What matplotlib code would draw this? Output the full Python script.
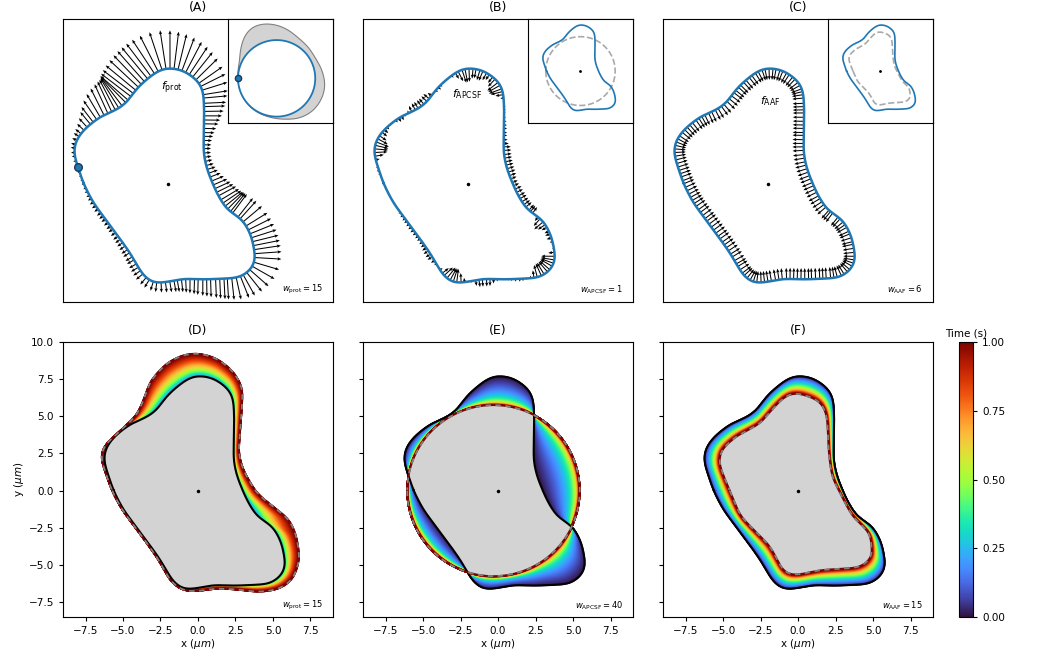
import numpy as np
import matplotlib.pyplot as plt
from matplotlib.colors import Normalize
from matplotlib.cm import ScalarMappable

cell_x = [0.0, 1.0, 2.0, 2.36, 2.42, 2.36, 2.6, 3.24, 3.9, 5.0, 5.58, 5.87, 5.58, 4.8, 2.36, 1.0,
          -0.1, -0.98, -1.64, -2.53, -3.64, -4.98, -5.64, -6.31, -6.2, -5.64, -4.53, -3.42, -2.76,
          -2.09, -1.2, -0.53]
cell_y = [7.76, 7.6, 6.9, 6.27, 4.7, 2.0, 0.93, -0.62, -1.73, -2.4, -3.5, -5.07, -5.73, -6.29, -6.4,
          -6.33, -6.58, -6.67, -6.18, -4.62, -3.07, -1.29, 0.0, 2.04, 2.82, 3.6, 4.49, 4.93, 5.38,
          6.38, 7.16, 7.64]

# outline at t = 1 after protrusion (panel D)
prot_x = [0.0, 1.24, 2.36, 3.0, 2.9, 2.69, 3.0, 3.9, 5.0, 6.13, 6.58, 6.8, 6.36, 5.47, 4.13, 2.36,
          1.02, -0.09, -1.09, -1.87, -2.65, -3.75, -5.08, -5.75, -6.53, -6.3, -5.53, -4.09, -3.64,
          -3.2, -2.09, -0.98]
prot_y = [9.27, 8.93, 8.04, 6.93, 5.16, 2.49, 1.38, -0.18, -1.07, -1.96, -3.07, -4.62, -5.96, -6.62,
          -6.84, -6.62, -6.58, -6.8, -6.73, -6.07, -4.6, -3.05, -1.27, 0.0, 2.27, 3.0, 3.71, 5.04,
          6.04, 7.38, 8.6, 9.16]

# outline at t = 1 after area adjustment (panel F)
aaf_x = [0.0, 1.49, 1.93, 2.05, 2.25, 3.6, 4.82, 4.98, 4.16, 1.49, -0.29, -0.96, -1.84, -3.84,
         -5.29, -5.18, -4.07, -2.51, -1.62, -0.73]
aaf_y = [6.6, 6.04, 5.16, 2.49, 0.93, -1.73, -2.84, -4.51, -5.18, -5.33, -5.73, -5.51, -3.73, -1.73,
         1.82, 2.71, 3.71, 4.49, 5.6, 6.49]

# target circle of the APCSF (panel E)
circle_r = 5.75
circle_cx = -0.3

# protrusion arrow length (um) against polar angle (deg), panel A
prot_ang = [-165, -140, -120, -105, -90, -70, -55, -45, -38, -30, -20, -5, 10, 25, 40, 55, 63, 70,
            80, 90, 100, 110, 120, 130, 137, 145, 155, 175]
prot_len = [0.3, 0.35, 0.5, 0.6, 0.7, 1.1, 1.5, 1.7, 1.9, 1.7, 1.5, 1.1, 0.7, 0.5, 0.45, 0.55, 1.3,
            1.8, 2.3, 2.6, 2.8, 2.6, 2.3, 2.3, 1.8, 0.6, 0.3, 0.1]
aaf_len = 0.75
marker_xy = (-6.0, 1.1)

# protrusion weighting around the unit circle (inset A)
w_ang = [180, 155, 140, 126, 116, 102, 84, 62, 28, 4, -10, -24, -44, -62, -78, -102, -130, -155]
w_rad = [1.0, 1.04, 1.2, 1.39, 1.49, 1.46, 1.35, 1.18, 1.12, 1.21, 1.27, 1.28, 1.26, 1.18, 1.08,
         1.02, 1.01, 1.0]

BLUE = '#1f77b4'
N = 720
theta = np.linspace(-np.pi, np.pi, N, endpoint=False)


def gauss_smooth(v, step, sigma):
    k = np.fft.fftfreq(len(v), d=step)
    return np.real(np.fft.ifft(np.fft.fft(v) * np.exp(-2 * (np.pi * k * sigma) ** 2)))


def outline(xs, ys, sigma=0.45, n=2048):
    xc = np.append(xs, xs[0])
    yc = np.append(ys, ys[0])
    s = np.concatenate([[0], np.cumsum(np.hypot(np.diff(xc), np.diff(yc)))])
    u = np.linspace(0, s[-1], n, endpoint=False)
    step = s[-1] / n
    x = gauss_smooth(np.interp(u, s, xc), step, sigma)
    y = gauss_smooth(np.interp(u, s, yc), step, sigma)
    th = np.arctan2(y, x)
    o = np.argsort(th)
    return np.interp(theta, th[o], np.hypot(x, y)[o], period=2 * np.pi)


def smooth_polar(ang, rad, sigma):
    a = np.radians(ang)
    o = np.argsort(a)
    rr = np.interp(theta, a[o], np.asarray(rad)[o], period=2 * np.pi)
    return gauss_smooth(rr, 2 * np.pi / N, sigma)


def xy(r):
    return r * np.cos(theta), r * np.sin(theta)


def derivs(x, y):
    dx = (np.roll(x, -1) - np.roll(x, 1)) / 2
    dy = (np.roll(y, -1) - np.roll(y, 1)) / 2
    return dx, dy


def normals(x, y):
    dx, dy = derivs(x, y)
    n = np.hypot(dx, dy)
    return dy / n, -dx / n


def curvature(x, y):
    dx, dy = derivs(x, y)
    ddx = np.roll(x, -1) - 2 * x + np.roll(x, 1)
    ddy = np.roll(y, -1) - 2 * y + np.roll(y, 1)
    return (dx * ddy - dy * ddx) / (dx ** 2 + dy ** 2) ** 1.5


def even_idx(x, y, m):
    seg = np.hypot(np.diff(x, append=x[0]), np.diff(y, append=y[0]))
    s = np.concatenate([[0], np.cumsum(seg)[:-1]])
    return np.searchsorted(s, np.linspace(0, seg.sum(), m, endpoint=False))


r0 = outline(cell_x, cell_y)
r_prot = np.maximum(outline(prot_x, prot_y), r0)
r_aaf = np.minimum(outline(aaf_x, aaf_y), r0)
r_circ = circle_cx * np.cos(theta) + np.sqrt(circle_r ** 2 - (circle_cx * np.sin(theta)) ** 2)
x0, y0 = xy(r0)
nx, ny = normals(x0, y0)

fig = plt.figure(figsize=(10.37, 6.6), dpi=100)
W, H = 1037, 660
top_axes = [fig.add_axes([l / W, 358 / H, 270 / W, 283 / H]) for l in (63, 363, 663)]
bot_axes = [fig.add_axes([l / W, 43 / H, 270 / W, 275 / H]) for l in (63, 363, 663)]

# ---- top row: forces on the outline
mag_prot = smooth_polar(prot_ang, prot_len, 0.08)
kap = curvature(x0, y0)
mag_apcsf = np.clip(2.0 * (kap.mean() - kap), -0.9, 0.5)
mags = [mag_prot, mag_apcsf, -aaf_len * np.ones(N)]
counts = [150, 170, 170]
flabels = [r'$f_{\rm prot}$', r'$f_{\rm APCSF}$', r'$f_{\rm AAF}$']
flabel_pos = [(0.27, 6.4), (-0.07, 6.0), (0.16, 5.5)]
wlabels_top = [r'$w_{\rm prot} = 15$', r'$w_{\rm APCSF} = 1$', r'$w_{\rm AAF} = 6$']
for ax, mag, m, fl, fp, wl, title in zip(top_axes, mags, counts, flabels, flabel_pos,
                                         wlabels_top, 'ABC'):
    idx = even_idx(x0, y0, m)
    ax.quiver(x0[idx], y0[idx], (mag * nx)[idx], (mag * ny)[idx], angles='xy', scale_units='xy',
              scale=1, width=0.0038, headwidth=3.2, headlength=3.8, headaxislength=3.3, zorder=2)
    ax.plot(x0, y0, color=BLUE, lw=1.8, zorder=3)
    ax.plot(0, 0, 'k.', ms=3)
    ax.text(fp[0], fp[1], fl, ha='center', va='center', fontsize=8)
    ax.text(0.963, 0.02, wl, transform=ax.transAxes, ha='right', va='bottom', fontsize=6)
    ax.set_xlim(-7, 11)
    ax.set_ylim(-7.9, 11)
    ax.set_xticks([])
    ax.set_yticks([])
    ax.set_title(f'({title})', fontsize=9)

top_axes[0].plot(*marker_xy, 'o', color=BLUE, mec='#1a3a5a', ms=5.5, zorder=4)

insets = [ax.inset_axes([0.611, 0.632, 0.389, 0.368]) for ax in top_axes]
for ins in insets:
    ins.set_xticks([])
    ins.set_yticks([])

# inset A: weighting around the circle
rw = smooth_polar(w_ang, w_rad, 0.12)
ia = insets[0]
ia.fill(*xy(rw), facecolor='lightgray', edgecolor='gray', lw=0.8)
ia.fill(np.cos(theta), np.sin(theta), color='white', lw=0)
ia.plot(np.cos(theta), np.sin(theta), color=BLUE, lw=1.3)
ia.plot(-1, 0, 'o', color=BLUE, mec='#1a3a5a', ms=4.5)
ia.set_xlim(-1.26, 1.46)
ia.set_ylim(-1.17, 1.55)

# inset B / C: outline and its target
for ins, rt in zip(insets[1:], [circle_r * np.ones(N), r_aaf]):
    ins.plot(*xy(rt), color='darkgray', ls='--', lw=1.2)
    ins.plot(x0, y0, color=BLUE, lw=1.2)
    ins.plot(0, 0, 'k.', ms=2)
    ins.set_xlim(-8.7, 8.7)
    ins.set_ylim(-8.7, 8.7)

# ---- bottom row: outline evolution over time
cmap = plt.get_cmap('turbo')
t = np.linspace(0, 1, 160)
progress = [t ** 1.6,
            (1 - np.exp(-4 * t)) / (1 - np.exp(-4)),
            (1 - np.exp(-1.2 * t)) / (1 - np.exp(-1.2))]
finals = [r_prot, r_circ, r_aaf]
wlabels_bot = [r'$w_{\rm prot} = 15$', r'$w_{\rm APCSF} = 40$', r'$w_{\rm AAF} = 15$']
for ax, r1, sp, wl, title in zip(bot_axes, finals, progress, wlabels_bot, 'DEF'):
    for tk, sk in zip(t, sp):
        ax.plot(*xy(r0 + sk * (r1 - r0)), color=cmap(tk), lw=1.3, solid_capstyle='butt')
    ax.fill(*xy(np.minimum(r0, r1)), color='lightgray', lw=0, zorder=3)
    ax.plot(x0, y0, color='black', lw=1.5, zorder=4)
    ax.plot(*xy(r1), color=cmap(1.0), lw=1.3, zorder=5)
    ax.plot(*xy(r1), color='gray', lw=1.3, ls=(0, (3, 2.5)), zorder=6)
    ax.plot(0, 0, 'k.', ms=3, zorder=7)
    ax.text(0.963, 0.02, wl, transform=ax.transAxes, ha='right', va='bottom', fontsize=6)
    ax.set_xlim(-9, 9)
    ax.set_ylim(-8.5, 10)
    ax.set_xticks(np.arange(-7.5, 7.6, 2.5))
    ax.set_yticks(np.arange(-7.5, 10.1, 2.5))
    ax.tick_params(labelsize=7.5, length=3)
    ax.set_xlabel(r'x ($\mu m$)', fontsize=7.5, labelpad=1)
    ax.set_title(f'({title})', fontsize=9)
bot_axes[0].set_ylabel(r'y ($\mu m$)', fontsize=7.5, labelpad=2)
for ax in bot_axes[1:]:
    ax.set_yticklabels([])

cax = fig.add_axes([959 / W, 43 / H, 14 / W, 275 / H])
cb = fig.colorbar(ScalarMappable(norm=Normalize(0, 1), cmap=cmap), cax=cax,
                  ticks=[0, 0.25, 0.5, 0.75, 1.0], format='%.2f')
cb.ax.tick_params(labelsize=7.5, length=3)
cax.set_title('Time (s)', fontsize=7.5, pad=4)

fig.savefig('out.png', dpi=100)
